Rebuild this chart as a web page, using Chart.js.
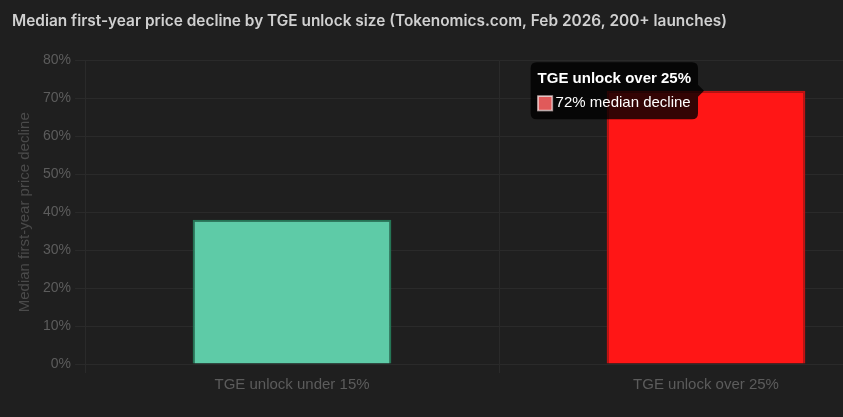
<!DOCTYPE html>
<html>
<head>
<meta charset="utf-8">
<script src="https://cdn.jsdelivr.net/npm/chart.js@4.4.1/dist/chart.umd.min.js"></script>
<style>
  html, body { margin: 0; padding: 0; background: #1f1f1f; overflow: hidden; }
  #wrap { position: relative; width: 913px; height: 417px; }
</style>
</head>
<body>
<div id="wrap"><canvas id="bar-chart"></canvas></div>
<script>
const chartTitle = 'Median first-year price decline by TGE unlock size (Tokenomics.com, Feb 2026, 200+ launches)'
const categories = ['TGE unlock under 15%', 'TGE unlock over 25%']
const medianDecline = [38, 72]
const seriesLabel = 'median decline'
const yAxisTitle = 'Median first-year price decline'

const fillColors = ['#5ecba7', '#ff1616']
const edgeColors = ['#247555', '#c01212']

Chart.defaults.font.family = "Arial, 'Liberation Sans', sans-serif"

const config = {
    type: 'bar',
    data: {
        labels: categories,
        datasets: [
            {
                label: seriesLabel,
                data: medianDecline,
                backgroundColor: fillColors,
                borderColor: edgeColors,
                hoverBackgroundColor: fillColors,
                hoverBorderColor: edgeColors,
                borderWidth: 2,
                borderSkipped: 'bottom',
                barPercentage: 0.6,
                categoryPercentage: 0.8,
            }
        ]
    },
    options: {
        responsive: true,
        maintainAspectRatio: false,
        animation: false,
        layout: {padding: {left: 12, right: 0, top: 0, bottom: 20}},
        plugins: {
            legend: {display: false},
            title: {
                display: true,
                text: chartTitle,
                align: 'start',
                color: '#d0d0d0',
                font: {family: 'Inter', size: 15.4, weight: '600'},
                padding: {top: 12, bottom: 30},
            },
            tooltip: {
                backgroundColor: 'rgba(0,0,0,0.8)',
                titleColor: '#ffffff',
                bodyColor: '#ffffff',
                titleFont: {size: 15, weight: 'bold'},
                bodyFont: {size: 15},
                padding: {top: 8, bottom: 7, left: 7, right: 7},
                cornerRadius: 6,
                caretSize: 6,
                boxWidth: 15,
                boxHeight: 15,
                boxPadding: 1,
                callbacks: {
                    label: ctx => ctx.parsed.y + '% ' + seriesLabel,
                    labelColor: () => ({backgroundColor: '#e05a5a', borderColor: '#b09898', borderWidth: 1}),
                }
            }
        },
        scales: {
            x: {
                grid: {color: '#2a2a2a', tickLength: 9},
                border: {color: '#2a2a2a'},
                ticks: {color: '#5c5c5c', font: {size: 15}},
            },
            y: {
                min: 0,
                max: 80,
                grid: {color: '#2a2a2a', tickLength: 10},
                border: {color: '#2a2a2a'},
                ticks: {
                    stepSize: 10,
                    color: '#5c5c5c',
                    font: {size: 14},
                    padding: 4,
                    callback: v => v + '%',
                },
                title: {
                    display: true,
                    text: yAxisTitle,
                    color: '#4a4a4a',
                    font: {size: 15},
                    padding: {top: 4, bottom: 5},
                }
            }
        }
    }
}

const ctx = document.getElementById('bar-chart').getContext('2d')
window.myBar = new Chart(ctx, config)

const meta = window.myBar.getDatasetMeta(0)
const pt = meta.data[1].tooltipPosition()
window.myBar.setActiveElements([{datasetIndex: 0, index: 1}])
window.myBar.tooltip.setActiveElements([{datasetIndex: 0, index: 1}], pt)
window.myBar.update()
</script>
</body>
</html>
